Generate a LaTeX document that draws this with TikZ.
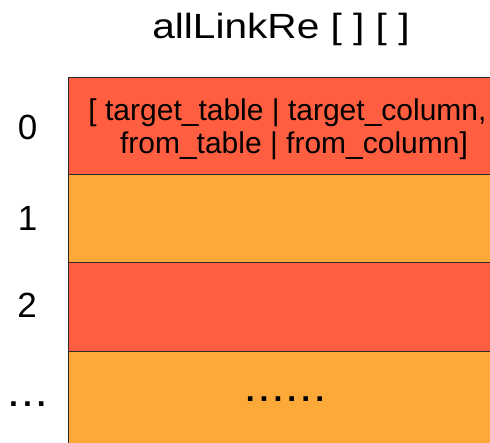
\documentclass[tikz,border=0pt]{standalone}
\usepackage{fontspec}
\setmainfont{Liberation Sans}
\definecolor{rowred}{HTML}{FF5F40}
\definecolor{roworange}{HTML}{FDA93A}
\definecolor{rowline}{HTML}{2A2A2A}
\tikzset{
  cell/.style={draw=rowline, line width=0.9pt, inner sep=0pt, outer sep=0pt, minimum width=430pt},
  idx/.style={font=\fontsize{35}{35}\selectfont, inner sep=0pt},
  celltext/.style={font=\fontsize{30}{33}\selectfont, inner sep=0pt, anchor=base},
  dots/.style={font=\fontsize{32}{32}\selectfont\bfseries, inner sep=0pt, anchor=base}
}
\begin{document}
\begin{tikzpicture}[x=1pt,y=-1pt]
\useasboundingbox (0,0) rectangle (490,442);
\clip (0,0) rectangle (490,442);
\fill[white] (0,0) rectangle (490,442);
\node[font=\fontsize{35}{35}\selectfont, inner sep=0pt, anchor=base, xscale=1.16] (title) at (281,38) {allLinkRe [ ] [ ]};
\node[cell, fill=rowred, anchor=north west, minimum height=97pt] (r0) at (68,77) {};
\node[cell, fill=roworange, anchor=north west, minimum height=88pt] (r1) at (r0.south west) {};
\node[cell, fill=rowred, anchor=north west, minimum height=89pt] (r2) at (r1.south west) {};
\node[cell, fill=roworange, anchor=north west, minimum height=100pt] (r3) at (r2.south west) {};
\node[celltext] (t0a) at (287.5,120) {[ target\_table | target\_column,};
\node[celltext] (t0b) at (294,153) {from\_table | from\_column]};
\node[dots] (t3) at (285,401) {.\kern5pt.\kern5pt.\kern5pt.\kern5pt.\kern5pt.};
\node[idx] (l0) at (27.5,127.5) {0};
\node[idx] (l1) at (27.5,218) {1};
\node[idx] (l2) at (27,305) {2};
\node[dots] (l3) at (27.5,406) {.\kern5pt.\kern5pt.};
\end{tikzpicture}
\end{document}
